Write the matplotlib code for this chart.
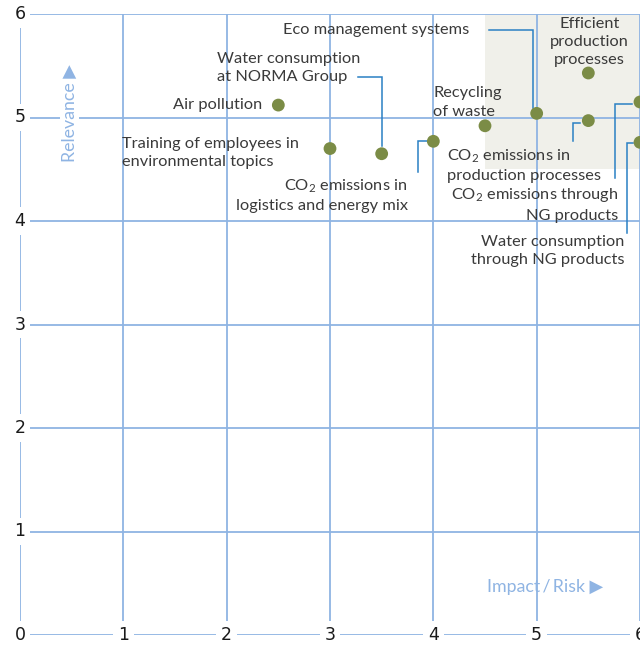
import matplotlib
matplotlib.use("Agg")
import matplotlib.pyplot as plt
from matplotlib.patches import Rectangle

plt.rcParams["font.family"] = ["Lato", "DejaVu Sans"]
plt.rcParams["mathtext.fontset"] = "custom"
plt.rcParams["mathtext.rm"] = "Lato"
plt.rcParams["mathtext.it"] = "Lato:italic"

# Topics: impact/risk (x) and relevance (y)
topics = [
    "Air pollution",
    "Training of employees in\nenvironmental topics",
    "Water consumption\nat NORMA Group",
    "CO$_2$ emissions in\nlogistics and energy mix",
    "Recycling\nof waste",
    "Eco management systems",
    "Efficient\nproduction\nprocesses",
    "CO$_2$ emissions in\nproduction processes",
    "CO$_2$ emissions through\nNG products",
    "Water consumption\nthrough NG products",
]
impact = [2.5, 3.0, 3.5, 4.0, 4.5, 5.0, 5.5, 5.5, 6.0, 6.0]
relevance = [5.12, 4.70, 4.65, 4.77, 4.92, 5.04, 5.43, 4.97, 5.15, 4.76]
tick_values = [0, 1, 2, 3, 4, 5, 6]

GRID = "#8fb4e3"
LEADER = "#2a80c4"
DOT = "#7b8c46"
TEXT = "#3a3a3a"
SHADE = "#f0f0ea"

fig = plt.figure(figsize=(6.40, 6.45), dpi=100)
ax = fig.add_axes([20 / 640, 10 / 645, 620 / 640, 621 / 645])
ax.set_xlim(0, 6)
ax.set_ylim(0, 6)
ax.axis("off")

# highlighted area
ax.add_patch(Rectangle((4.5, 4.5), 1.5, 1.5, facecolor=SHADE, edgecolor="none", zorder=0))

for v in tick_values:
    ax.axvline(v, color=GRID, lw=1.3, zorder=1)
    ax.axhline(v, color=GRID, lw=1.3, zorder=1)

tick_box = dict(facecolor="white", edgecolor="none", pad=3.5)
for v in tick_values:
    ax.text(v, 0, str(v), ha="center", va="center", fontsize=12.5, color="#1a1a1a",
            family="DejaVu Sans", bbox=tick_box, zorder=3, clip_on=False)
    if v > 0:
        ax.text(0, v, str(v), ha="center", va="center", fontsize=12.5, color="#1a1a1a",
                family="DejaVu Sans", bbox=tick_box, zorder=3, clip_on=False)

title_box = dict(facecolor="white", edgecolor="none", pad=1)
ax.text(0.48, 5.04, "Relevance \u25B6", rotation=90, ha="center", va="center",
        fontsize=12.8, color=GRID, family=["Lato", "DejaVu Sans"], bbox=title_box, zorder=3)
ax.text(5.08, 0.46, "Impact\u2009/\u2009Risk \u25B6", ha="center", va="center",
        fontsize=12.8, color=GRID, family=["Lato", "DejaVu Sans"], zorder=3)

ax.scatter(impact, relevance, s=85, color=DOT, zorder=4, edgecolors="none")

# leader lines connecting labels to points
leaders = [
    ([3.27, 3.5, 3.5], [5.39, 5.39, 4.72]),
    ([3.85, 3.85, 3.94], [4.47, 4.77, 4.77]),
    ([4.54, 4.96, 4.96], [5.85, 5.85, 5.09]),
    ([5.35, 5.35, 5.42], [4.77, 4.95, 4.95]),
    ([5.76, 5.76, 5.92], [4.42, 5.13, 5.13]),
    ([5.87, 5.87, 5.93], [3.88, 4.75, 4.75]),
]
for xs, ys in leaders:
    ax.plot(xs, ys, color=LEADER, lw=1.1, zorder=2, solid_joinstyle="miter")

# label placement (x, y, ha)
label_pos = [
    (2.34, 5.12, "right"),
    (0.99, 4.66, "left"),
    (1.91, 5.48, "left"),
    (3.75, 4.25, "right"),
    (4.00, 5.145, "left"),
    (4.35, 5.85, "right"),
    (5.51, 5.73, "center"),
    (4.13, 4.54, "left"),
    (5.79, 4.16, "right"),
    (5.85, 3.71, "right"),
]
for name, (lx, ly, ha) in zip(topics, label_pos):
    ax.text(lx, ly, name, ha=ha, va="center", fontsize=11.8, color=TEXT,
            linespacing=1.38, multialignment=ha, zorder=5)

fig.savefig("out.png", dpi=100)
